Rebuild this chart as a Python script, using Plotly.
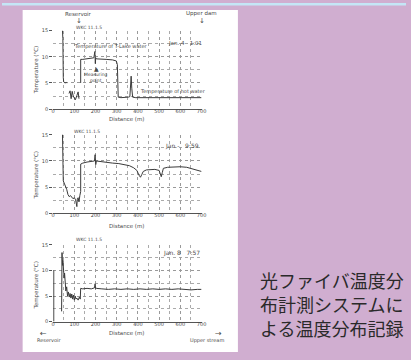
import plotly.graph_objects as go

# ---- data ----
dist1 = [44,46,48,50,56,62,66,None,75,80,85,90,95,100,105,112,118,122,None,
         130,130,140,160,180,192,197,199,201,204,220,250,280,298,303,305,307,320,340,355,
         362,365,368,371,375,390,420,450,480,510,540,570,600,630,660,700]
temp1 = [15,13.5,6,5.2,5.0,5.1,5.0,None,3.0,3.5,2.0,3.4,2.5,2.0,1.8,2.6,3.3,2.0,None,
         5.0,9.5,9.5,9.6,9.7,9.8,11.0,8.7,9.8,9.6,9.6,9.5,9.4,9.2,8.5,3.0,2.3,2.2,2.2,2.3,
         2.4,4.5,6.3,4.0,2.3,2.2,2.2,2.3,2.2,2.2,2.3,2.2,2.2,2.3,2.2,2.2]

dist2 = [44,46,48,52,56,60,64,70,76,82,88,94,100,106,112,114,118,122,126,130,
         130,140,160,180,195,198,201,204,220,250,280,310,340,360,380,395,405,412,418,425,
         440,460,480,500,505,510,515,520,540,570,600,630,650,670,690,700]
temp2 = [15.5,12,6.2,5.8,5.5,5.0,4.6,3.6,3.2,3.4,3.0,2.8,3.0,2.6,1.3,2.8,3.0,2.2,3.4,4.2,
         9.4,9.6,9.8,9.9,10.0,11.2,9.3,10.0,9.9,9.8,9.6,9.5,9.3,9.1,8.7,8.2,7.3,6.9,7.4,8.0,
         8.3,8.3,8.4,8.2,7.6,7.0,7.8,8.6,8.8,8.9,8.9,8.8,8.6,8.3,8.1,8.0]

dist3 = [3,3,None,40,42,44,46,48,50,52,54,56,58,60,64,68,72,76,80,84,88,92,96,100,
         104,108,112,118,124,128,130,140,160,180,195,198,201,204,230,260,290,320,350,380,
         410,440,470,500,530,560,590,620,650,680,700]
temp3 = [0,10,None,2,13.5,11,12,9.5,10.5,8.5,9.5,7.8,8.2,6.0,6.8,5.0,5.8,4.8,5.5,4.6,5.4,4.4,5.2,4.2,
         5.0,4.4,4.6,4.2,4.8,4.4,6.5,6.4,6.5,6.4,6.6,7.4,6.4,6.5,6.4,6.3,6.4,6.3,6.4,6.3,
         6.4,6.3,6.4,6.3,6.4,6.3,6.4,6.3,6.2,6.3,6.3]

x_ticks = [0,100,200,300,400,500,600,700]
y_ticks = [0,5,10,15]
time_labels = ["Jan. 4   1:01", "Jan.-   9:59", "Jan. 8   7:57"]
caption_lines = ["光ファイバ温度分", "布計測システムに", "よる温度分布記録"]

W, H = 411, 360
def px(x): return x / W
def py(y): return 1 - y / H

PURPLE = "#D0AED0"
LINE = "#3a3a3a"
TXT = "#4a4a4a"
SMALL = dict(family="DejaVu Sans", size=5, color=TXT)

fig = go.Figure()
panels = [(dist1, temp1, 28, 108), (dist2, temp2, 134, 214), (dist3, temp3, 246, 324)]
for i, (d, t, top, bot) in enumerate(panels):
    n = "" if i == 0 else str(i + 1)
    fig.add_trace(go.Scatter(x=d, y=t, mode="lines", line=dict(color=LINE, width=1),
                             xaxis="x" + n, yaxis="y" + n, showlegend=False, hoverinfo="skip"))
    fig.layout["xaxis" + n] = dict(domain=[px(52), px(203)], range=[0, 700], anchor="y" + n,
                                   tickvals=x_ticks, ticks="", ticklabelstandoff=-3,
                                   showline=True, linecolor="#555", linewidth=1,
                                   showgrid=True, gridcolor="#999", griddash="dot", gridwidth=1,
                                   minor=dict(dtick=50, showgrid=True, gridcolor="#aaa", griddash="dot"),
                                   tickfont=SMALL, zeroline=False, fixedrange=True)
    fig.layout["yaxis" + n] = dict(domain=[py(bot), py(top)], range=[0, 15], anchor="x" + n,
                                   tickvals=y_ticks, ticks="outside", ticklen=3, tickcolor="#555",
                                   showline=False, showgrid=True, gridcolor="#999", griddash="dot",
                                   minor=dict(dtick=2.5, showgrid=True, gridcolor="#aaa", griddash="dot"),
                                   tickfont=SMALL, zeroline=False, fixedrange=True)

shapes = [
    dict(type="rect", xref="paper", yref="paper", x0=0, x1=1, y0=py(2.5), y1=1,
         fillcolor="#C4E6F6", line_width=0, layer="below"),
    dict(type="rect", xref="paper", yref="paper", x0=px(21), x1=px(240), y0=py(355), y1=py(7),
         fillcolor="white", line_width=0, layer="below"),
]

ann = []
def A(text, x, y, size=5.5, angle=0, xanchor="center", color=TXT, family="DejaVu Sans"):
    ann.append(dict(text=text, x=px(x), y=py(y), xref="paper", yref="paper", showarrow=False,
                    xanchor=xanchor, yanchor="middle", textangle=angle, borderpad=0,
                    font=dict(family=family, size=size, color=color)))

# panel 1
A("Reservoir", 78, 11); A("↓", 78, 18, size=7)
A("Upper dam", 203, 11); A("↓", 203, 18, size=7)
A("WKC 11.1.5", 88, 25, size=4.5)
A("Temperature of T-Lake water", 110, 44, size=5)
A(time_labels[0], 186, 41, size=5.5)
A("▲", 96, 67, size=6)
A("Measuring<br>point", 82, 76, size=4.5, xanchor="left")
A("Temperature of hot water", 174, 90, size=5)
A("Distance (m)", 127, 118, size=5.5)
A("Temperature (°C)", 35, 68, size=5.5, angle=-90)
# panel 2
A("WKC 11.1.5", 86, 131, size=4.5)
A(time_labels[1], 183, 145, size=6)
A("Distance (m)", 127, 227, size=5.5)
A("Temperature (°C)", 35, 175, size=5.5, angle=-90)
# panel 3
A("WKC 11.1.5", 88, 240, size=4.5)
A(time_labels[2], 183, 254, size=6)
A("Distance (m)", 127, 336, size=5.5)
A("Temperature (°C)", 35, 287, size=5.5, angle=-90)
A("←", 42, 336, size=8); A("Reservoir", 35, 343, size=5, xanchor="left")
A("→", 220, 336, size=8); A("Upper stream", 227, 343, size=5, xanchor="right")

# caption
for k, line in enumerate(caption_lines):
    A(line, 261, 282 + 24 * k, size=18, xanchor="left", color="#2a2a2a",
      family="Noto Sans CJK JP")

fig.update_layout(width=W, height=H, margin=dict(l=0, r=0, t=0, b=0),
                  paper_bgcolor=PURPLE, plot_bgcolor="white",
                  shapes=shapes, annotations=ann, showlegend=False)
fig.write_html("out.html", config={"displayModeBar": False})
